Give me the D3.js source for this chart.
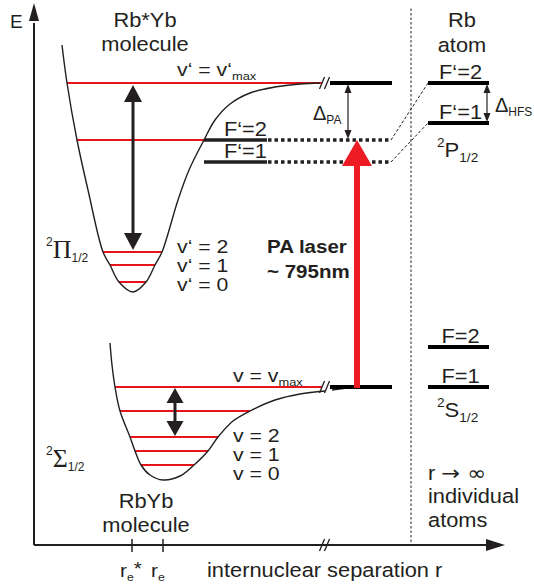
<!DOCTYPE html>
<html><head><meta charset="utf-8">
<script src="https://cdn.jsdelivr.net/npm/d3@7"></script>
<style>
body{margin:0;background:#fff}
svg{display:block}
text{font-family:"Liberation Sans",Arial,Helvetica,sans-serif;fill:#231f20}
</style>
</head><body><svg id="c" width="534" height="586"></svg>
<script>
// ---------- data (r = internuclear separation, E = energy; arbitrary units) ----------
const upperPotential = [[28,500],[33,462],[43,405],[54,355],[69,293],[76,280],[85,263],[99,253],
  [112,263],[121,280],[128,293],[144,345],[155,375],[170,405],[181,425],[196,441],[216,452],
  [241,458],[266,461],[286,462]];
const lowerPotential = [[76,202],[78,180],[81,158],[86,134],[96,108],[101,94],[107,80],[116,70],
  [129,65],[146,69],[160,80],[174,94],[184,108],[199,124],[216,134],[241,145],[266,151],[291,154]];
const lowerPotentialTail = [[298,155],[313,157]];
const upperVibLevels = [462,405,293,280,263];      // v'max, F'=2 crossing, v'=2,1,0
const lowerVibLevels = [158,134,108,94,80];        // vmax, ..., v=2,1,0
const upperVibLabels = ["v‘ = 2","v‘ = 1","v‘ = 0"];
const lowerVibLabels = ["v = 2","v = 1","v = 0"];
const molExcitedHFS = [{label:"F‘=2",E:405},{label:"F‘=1",E:383}];
const atomExcited = [{label:"F‘=2",E:462},{label:"F‘=1",E:422}];
const atomGround  = [{label:"F=2",E:198},{label:"F=1",E:158}];
const asymptotes = [462,158];
const rTicks = [{r:98,main:"r",sub:"e",sup:"*"},{r:129,main:"r",sub:"e",sup:""}];
const rBreak = 291, rAsym = [296,358], rSep = 377, rAtom = [394,455], rLaser = 323, rPA = 314, rHFS = 453;
const rInnerArrow = 99, rLowerArrow = 141;

// ---------- scales ----------
const x = d3.scaleLinear().domain([0,470]).range([34,504]);
const y = d3.scaleLinear().domain([0,540]).range([545,5]);
const svg = d3.select("#c");
const RED = "#e8141c", LASER = "#ed1c24", INK = "#231f20";
const FS = 19.5, SX = 1.12;

function branchR(curve, E, side){
  let iMin = 0; curve.forEach((p,i)=>{ if(p[1]<curve[iMin][1]) iMin=i; });
  const pts = side==="L" ? curve.slice(0,iMin+1) : curve.slice(iMin);
  for(let i=0;i<pts.length-1;i++){
    const a=pts[i], b=pts[i+1];
    if((E-a[1])*(E-b[1])<=0 && a[1]!==b[1]) return a[0]+(b[0]-a[0])*(E-a[1])/(b[1]-a[1]);
  }
  return pts[side==="L"?0:pts.length-1][0];
}
const line = d3.line().x(d=>x(d[0])).y(d=>y(d[1]));
function seg(r0,E0,r1,E1,stroke,w,dash){
  const l = svg.append("line").attr("x1",x(r0)).attr("y1",y(E0)).attr("x2",x(r1)).attr("y2",y(E1))
    .attr("stroke",stroke).attr("stroke-width",w);
  if(dash) l.attr("stroke-dasharray",dash);
  return l;
}
function head(px,py,dir,w,len,fill){
  let pts;
  if(dir==="up") pts=[[px,py],[px-w/2,py+len],[px+w/2,py+len]];
  else if(dir==="down") pts=[[px,py],[px-w/2,py-len],[px+w/2,py-len]];
  else pts=[[px,py],[px-len,py-w/2],[px-len,py+w/2]];
  svg.append("polygon").attr("points",pts.map(p=>p.join(",")).join(" ")).attr("fill",fill);
}
function vArrow(r,Etop,Ebot,w,hw,hl,color,both){
  const xt=x(r), yt=y(Etop), yb=y(Ebot);
  svg.append("line").attr("x1",xt).attr("x2",xt).attr("y1",yt+hl-1).attr("y2",both?yb-hl+1:yb)
    .attr("stroke",color).attr("stroke-width",w);
  head(xt,yt,"up",hw,hl,color);
  if(both) head(xt,yb,"down",hw,hl,color);
}
function breakMark(r,E){
  const px=x(r), py=y(E);
  [-3,2].forEach(o=>svg.append("line").attr("x1",px+o-2.5).attr("y1",py+6).attr("x2",px+o+2.5).attr("y2",py-6)
    .attr("stroke",INK).attr("stroke-width",1.3));
}
function label(px,py,parts,opts={}){
  const t = svg.append("text").attr("x",0).attr("y",0)
    .attr("transform",`translate(${px},${py}) scale(${opts.sx||SX},1)`)
    .attr("font-size",opts.size||FS)
    .attr("text-anchor",opts.anchor||"start");
  if(opts.bold) t.attr("font-weight","bold");
  parts.forEach(p=>{
    const s=t.append("tspan").text(p.t);
    if(p.size) s.attr("font-size",p.size);
    if(p.dy) s.attr("dy",p.dy);
    if(p.family) s.attr("font-family",p.family);
  });
  return t;
}

// ---------- axes ----------
seg(0,0,0,522,INK,2);
head(x(0),3,"up",10,18,INK);
seg(0,0,452,0,INK,2);
head(505,y(0),"right",12,19,INK);
breakMark(rBreak,0);
rTicks.forEach(t=>{
  svg.append("line").attr("x1",x(t.r)).attr("x2",x(t.r)).attr("y1",y(0)-6).attr("y2",y(0)+7)
    .attr("stroke",INK).attr("stroke-width",1.5);
  const parts=[{t:t.main},{t:t.sub,size:11,dy:4}];
  if(t.sup) parts.push({t:t.sup,dy:-6});
  label(x(t.r)-12,577,parts,{size:18.5});
});
label(207,577,[{t:"internuclear separation r"}],{});
label(10,28,[{t:"E"}],{size:19,sx:1});

// separator
seg(rSep,3,rSep,538,INK,1,"2.5,2");

// ---------- potential curves ----------
const curveGen = d3.line().x(d=>x(d[0])).y(d=>y(d[1])).curve(d3.curveCatmullRom.alpha(0.5));
upperVibLevels.forEach((E,i)=>{
  const r0=branchR(upperPotential,E,"L"), r1 = i===0 ? rBreak-3 : branchR(upperPotential,E,"R");
  seg(r0,E,r1,E,RED,2);
});
lowerVibLevels.forEach((E,i)=>{
  const r0=branchR(lowerPotential,E,"L"), r1 = i===0 ? rBreak-3 : branchR(lowerPotential,E,"R");
  seg(r0,E,r1,E,RED,2);
});
svg.append("path").attr("d",curveGen(upperPotential)).attr("fill","none").attr("stroke",INK).attr("stroke-width",1.4);
svg.append("path").attr("d",curveGen(lowerPotential)).attr("fill","none").attr("stroke",INK).attr("stroke-width",1.4);
svg.append("path").attr("d",line(lowerPotentialTail)).attr("fill","none").attr("stroke",INK).attr("stroke-width",1.4);
asymptotes.forEach(E=>{ breakMark(rBreak,E); seg(rAsym[0],E,rAsym[1],E,"#000",4); });

// molecular hyperfine-shifted levels
molExcitedHFS.forEach((d,i)=>{
  seg(170,d.E,233,d.E,INK,3.5);
  seg(234,d.E,357,d.E,INK,3.5,"3.5,3");
  label(x(233),y(d.E)-4,[{t:d.label}],{anchor:"end"});
  seg(357,d.E,rAtom[0],atomExcited[i].E,INK,1,"3,2");
});

// atom levels
atomExcited.concat(atomGround).forEach(d=>{
  seg(rAtom[0],d.E,rAtom[1],d.E,"#000",4);
  label((x(rAtom[0])+x(rAtom[1]))/2+2,y(d.E)-4,[{t:d.label}],{anchor:"middle"});
});

// ---------- arrows ----------
vArrow(rInnerArrow,460,295,3,18,17,INK,true);
vArrow(rLowerArrow,157,109,3,17,15,INK,true);
vArrow(rPA,461,406,1.2,7,9,INK,true);
vArrow(rHFS,461,423,1.2,7,9,INK,true);
vArrow(rLaser,405,157,6,30,26,LASER,false);

// ---------- labels ----------
label(145,27,[{t:"Rb*Yb"}],{anchor:"middle"});
label(145,51,[{t:"molecule"}],{anchor:"middle"});
label(146,508,[{t:"RbYb"}],{anchor:"middle"});
label(146,532,[{t:"molecule"}],{anchor:"middle"});
label(462,27,[{t:"Rb"}],{anchor:"middle"});
label(462,52,[{t:"atom"}],{anchor:"middle"});

label(177,76,[{t:"v‘ = v‘"},{t:"max",size:11.5,dy:4}],{size:19});
label(233,382,[{t:"v = v"},{t:"max",size:11.5,dy:4}],{size:19});
upperVibLabels.forEach((s,i)=>label(177,253+i*19,[{t:s}],{size:19}));
lowerVibLabels.forEach((s,i)=>label(233,442+i*19,[{t:s}],{size:19}));

label(46,246,[{t:"2",size:12},{t:"Π",size:26,dy:12,family:"Liberation Serif"},{t:"1/2",size:12,dy:4}],{size:12,sx:1});
label(46,455,[{t:"2",size:12},{t:"Σ",size:26,dy:12,family:"Liberation Serif"},{t:"1/2",size:12,dy:4}],{size:12,sx:1});
label(437,147,[{t:"2",size:13},{t:"P",size:21,dy:10},{t:"1/2",size:13,dy:5}],{size:13,sx:1.05});
label(437,407,[{t:"2",size:13},{t:"S",size:21,dy:10},{t:"1/2",size:13,dy:5}],{size:13,sx:1.05});

label(313,120,[{t:"Δ",size:20},{t:"PA",size:12,dy:4}],{size:20,sx:1});
label(495,112,[{t:"Δ",size:20},{t:"HFS",size:12,dy:4}],{size:20,sx:1});

label(267,253,[{t:"PA laser"}],{size:19,bold:true,sx:1.08});
label(267,278,[{t:"~ 795nm"}],{size:19,bold:true,sx:1.08});

label(428,480,[{t:"r "},{t:"→",family:"DejaVu Sans",size:20},{t:" ∞",family:"DejaVu Sans",size:20}],{});
label(428,503,[{t:"individual"}],{});
label(428,527,[{t:"atoms"}],{});
</script></body></html>
